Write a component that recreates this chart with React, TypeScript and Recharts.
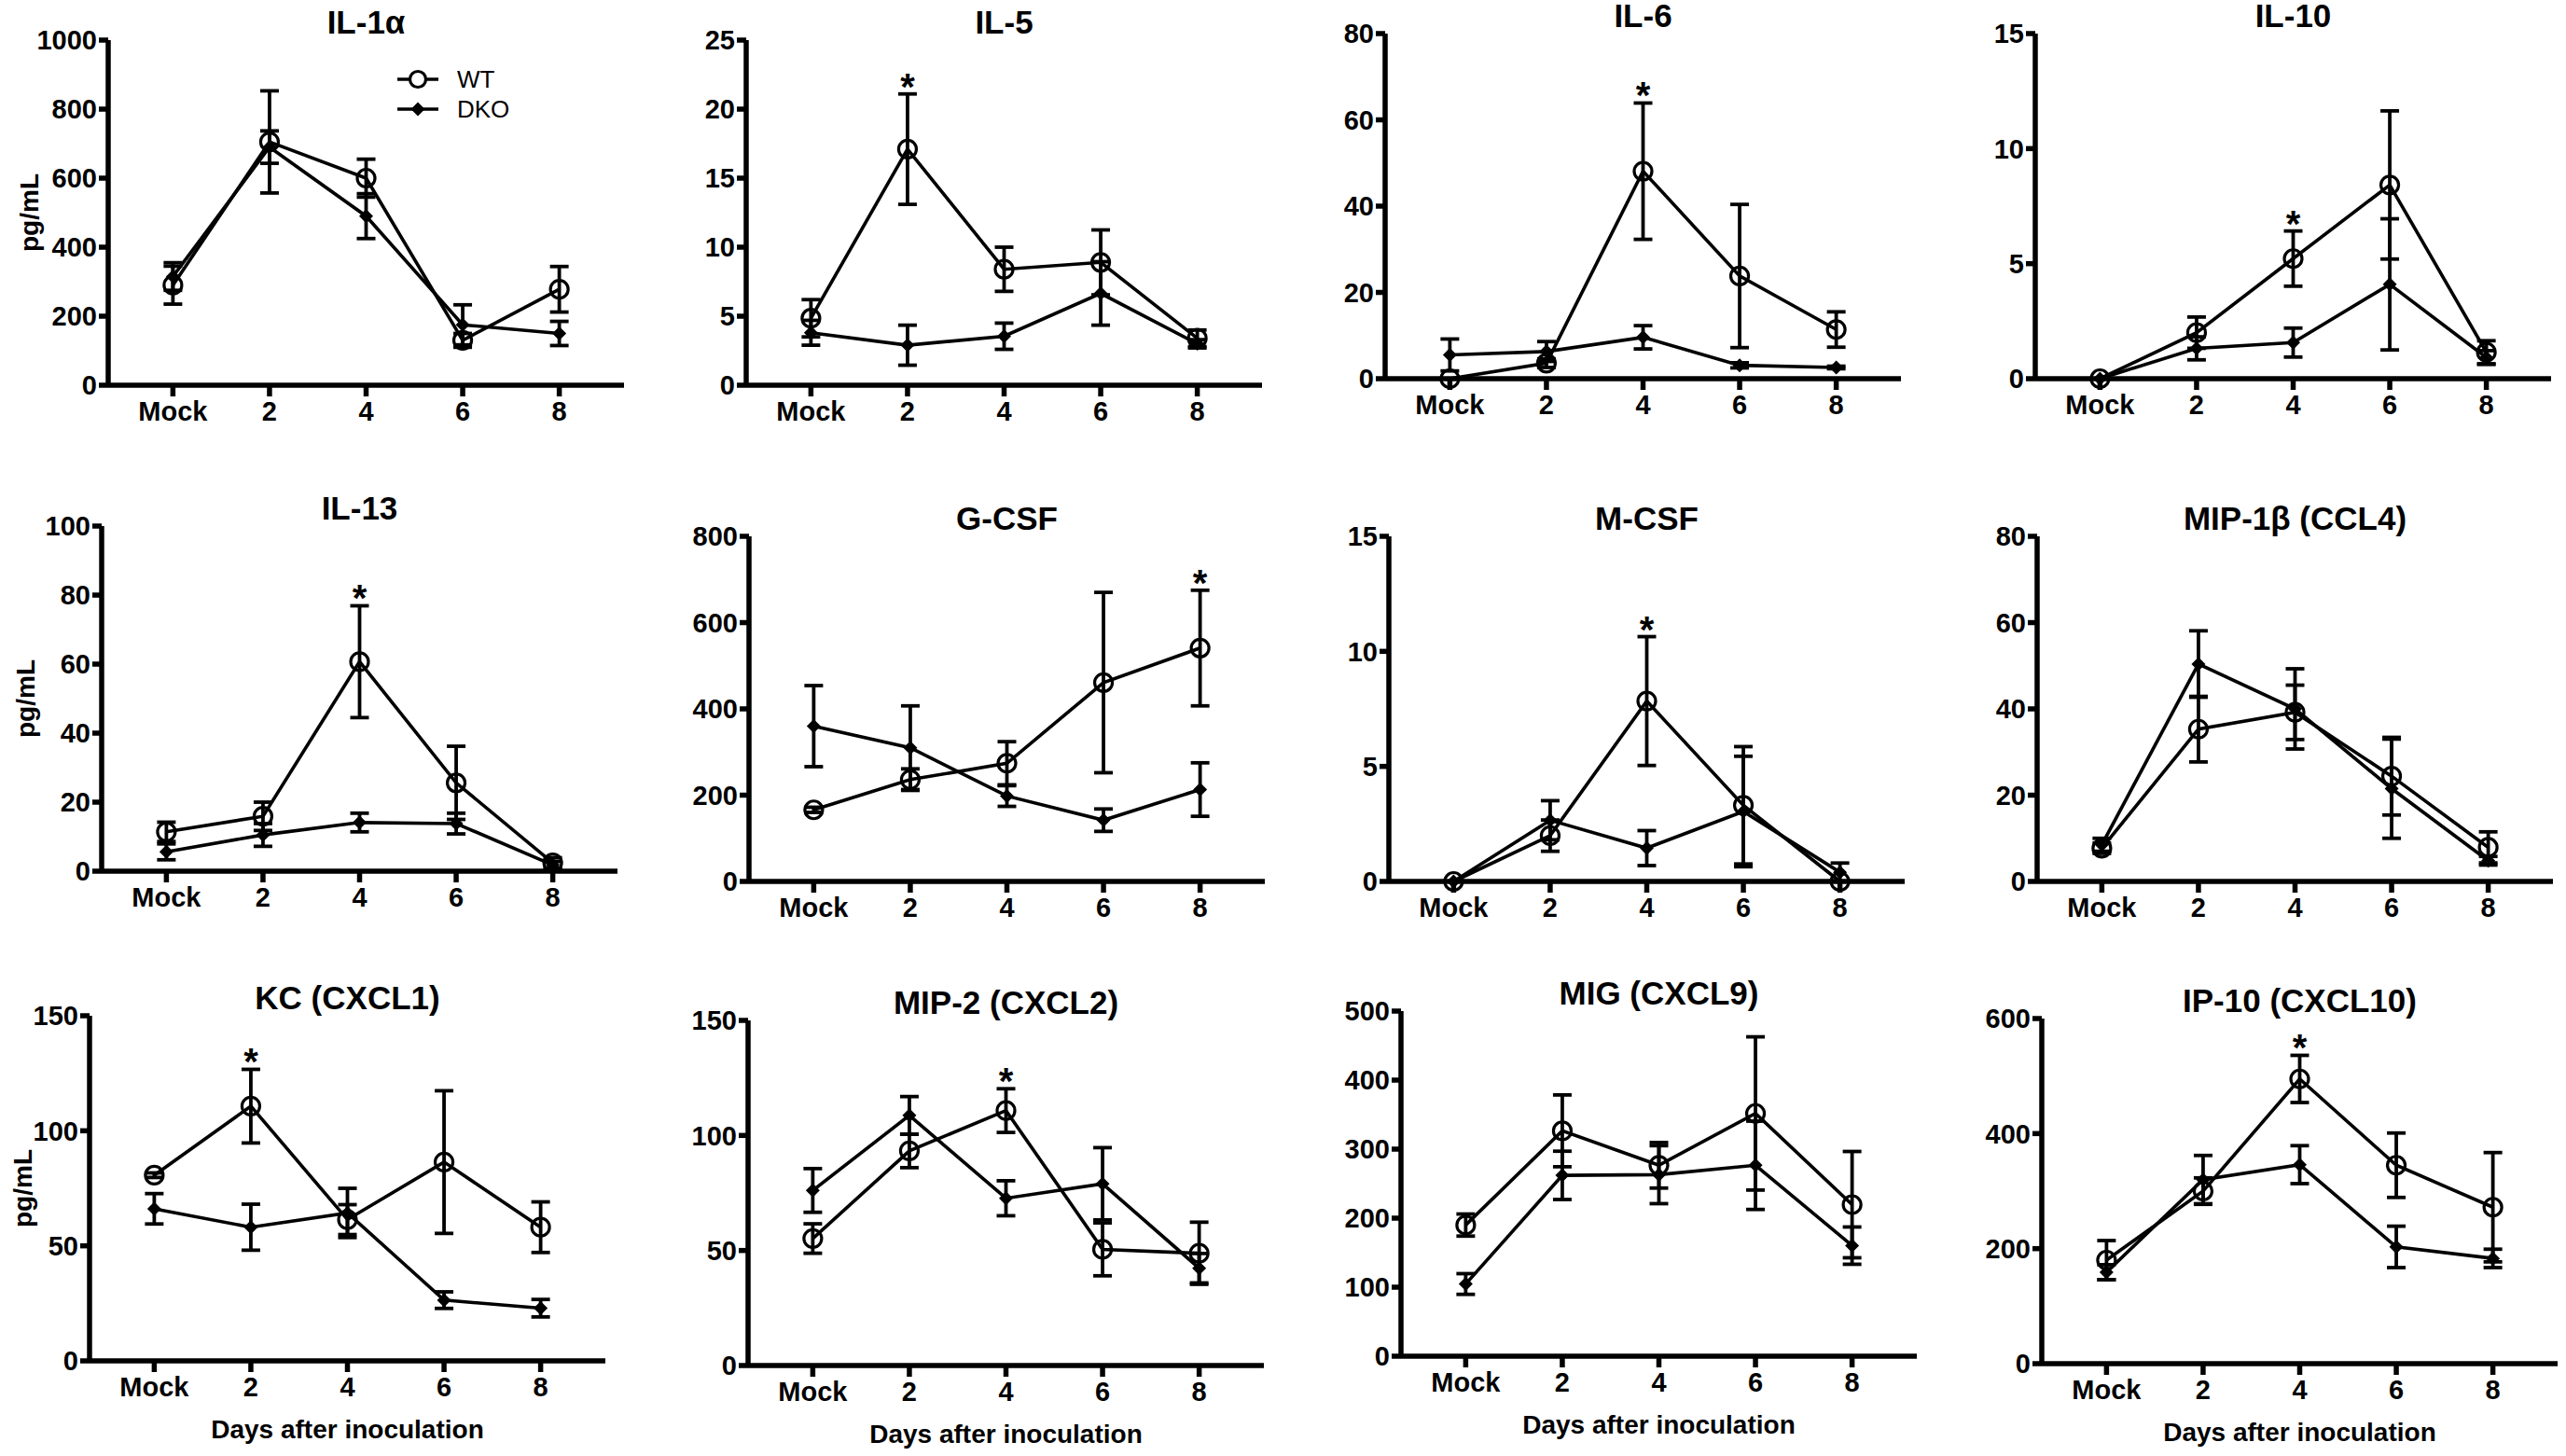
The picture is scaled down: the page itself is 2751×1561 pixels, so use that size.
import { LineChart, Line, XAxis, YAxis, ErrorBar, LabelList, Legend } from "recharts";

const FONT = "'Liberation Sans', Arial, Helvetica, sans-serif";

// shared x categories
const days = ["Mock", "2", "4", "6", "8"];
const dayIndex = [0, 1, 2, 3, 4];
const groups = ["WT", "DKO"];

// IL-1α
const il1aTicks = [0, 200, 400, 600, 800, 1000];
const il1aWT = [290, 705, 600, 130, 278];
const il1aWTErr = [55, 148, 55, 20, 66];
const il1aDKO = [315, 690, 490, 175, 150];
const il1aDKOErr = [40, 47, 65, 58, 35];
const il1aStars: number[] = [];

// IL-5
const il5Ticks = [0, 5, 10, 15, 20, 25];
const il5WT = [4.85, 17.1, 8.4, 8.9, 3.4];
const il5WTErr = [1.35, 4.0, 1.6, 2.35, 0.6];
const il5DKO = [3.8, 2.9, 3.55, 6.65, 3.0];
const il5DKOErr = [0.9, 1.45, 0.95, 2.3, 0.3];
const il5Stars = [1];

// IL-6
const il6Ticks = [0, 20, 40, 60, 80];
const il6WT = [0, 3.6, 48.1, 23.8, 11.4];
const il6WTErr = [0, 1.0, 15.8, 16.6, 4.1];
const il6DKO = [5.5, 6.3, 9.6, 3.1, 2.6];
const il6DKOErr = [3.7, 2.3, 2.7, 0.6, 0.3];
const il6Stars = [2];

// IL-10
const il10Ticks = [0, 5, 10, 15];
const il10WT = [0, 2.0, 5.22, 8.42, 1.15];
const il10WTErr = [0, 0.68, 1.2, 3.22, 0.5];
const il10DKO = [0, 1.32, 1.57, 4.1, 0.92];
const il10DKOErr = [0, 0.5, 0.63, 2.85, 0.3];
const il10Stars = [2];

// IL-13
const il13Ticks = [0, 20, 40, 60, 80, 100];
const il13WT = [11.4, 15.9, 60.7, 25.6, 2.4];
const il13WTErr = [2.8, 4.1, 16.2, 10.6, 1.5];
const il13DKO = [5.6, 10.5, 14.1, 13.8, 1.8];
const il13DKOErr = [2.3, 3.3, 2.7, 3.0, 1.0];
const il13Stars = [2];

// G-CSF
const gcsfTicks = [0, 200, 400, 600, 800];
const gcsfWT = [166, 236, 274, 461, 541];
const gcsfWTErr = [6, 25, 50, 209, 134];
const gcsfDKO = [360, 310, 198, 142, 213];
const gcsfDKOErr = [94, 97, 24, 26, 62];
const gcsfStars = [4];

// M-CSF
const mcsfTicks = [0, 5, 10, 15];
const mcsfWT = [0, 1.99, 7.84, 3.31, 0];
const mcsfWTErr = [0, 0.68, 2.8, 2.55, 0];
const mcsfDKO = [0, 2.66, 1.45, 3.04, 0.4];
const mcsfDKOErr = [0, 0.85, 0.76, 2.4, 0.4];
const mcsfStars = [2];

// MIP-1β (CCL4)
const mip1bTicks = [0, 20, 40, 60, 80];
const mip1bWT = [7.7, 35.3, 39.2, 24.4, 7.9];
const mip1bWTErr = [1.2, 7.6, 6.3, 9, 3.6];
const mip1bDKO = [8.5, 50.4, 40.0, 21.5, 4.8];
const mip1bDKOErr = [1.5, 7.7, 9.3, 11.5, 1.0];
const mip1bStars: number[] = [];

// KC (CXCL1)
const kcTicks = [0, 50, 100, 150];
const kcWT = [80.7, 110.7, 61.4, 86.4, 58.1];
const kcWTErr = [1, 16, 6.5, 31, 11];
const kcDKO = [66.1, 58.1, 64.3, 26.4, 22.9];
const kcDKOErr = [6.6, 10, 10.7, 3.6, 3.8];
const kcStars = [1];

// MIP-2 (CXCL2)
const mip2Ticks = [0, 50, 100, 150];
const mip2WT = [55.2, 93.3, 110.8, 50.5, 48.8];
const mip2WTErr = [6.4, 7.3, 9.5, 11.5, 13.5];
const mip2DKO = [76.1, 108.7, 72.7, 79.0, 42.3];
const mip2DKOErr = [9.5, 8.2, 7.6, 15.7, 6.4];
const mip2Stars = [2];

// MIG (CXCL9)
const migTicks = [0, 100, 200, 300, 400, 500];
const migWT = [190, 326.5, 276.6, 351.7, 219.6];
const migWTErr = [16, 52, 33, 111, 77];
const migDKO = [104.6, 262, 263, 276.6, 160.2];
const migDKOErr = [15, 35, 42, 64, 27];
const migStars: number[] = [];

// IP-10 (CXCL10)
const ip10Ticks = [0, 200, 400, 600];
const ip10WT = [180, 300, 495, 345, 272];
const ip10WTErr = [34, 23, 41, 56, 95];
const ip10DKO = [159, 320, 346, 203, 183];
const ip10DKOErr = [13, 42, 33, 36, 16];
const ip10Stars = [2];

const PLOT_W = 553;
const PLOT_H = 370;
const YW = 90;
const MT = 24;
const XH = 50;
const MR = 12;

const CircleDot = (props: any) => {
  const { cx, cy, index } = props;
  if (cx == null || cy == null) return <g key={`c-${index}`} />;
  return <circle key={`c-${index}`} cx={cx} cy={cy} r={9.5} fill="none" stroke="#000" strokeWidth={3.2} />;
};

const DiamondDot = (props: any) => {
  const { cx, cy, index } = props;
  if (cx == null || cy == null) return <g key={`d-${index}`} />;
  const s = 7.5;
  return (
    <path
      key={`d-${index}`}
      d={`M${cx},${cy - s} L${cx + s},${cy} L${cx},${cy + s} L${cx - s},${cy} Z`}
      fill="#000"
    />
  );
};

const Star = (props: any) => {
  const { x, y, value, index } = props;
  if (value == null || x == null || y == null) return null;
  return (
    <text key={`s-${index}`} x={x} y={y + 6} textAnchor="middle" fontSize={40} fontWeight={700} fontFamily={FONT} fill="#000">
      *
    </text>
  );
};

const LegendBox = ({ payload }: any) => {
  const items = (payload || [])
    .filter((p: any) => groups.includes(p.value))
    .sort((a: any, b: any) => groups.indexOf(a.value) - groups.indexOf(b.value));
  return (
    <div style={{ fontFamily: FONT, fontSize: 26, color: "#000" }}>
      {items.map((p: any) => (
        <div key={p.value} style={{ display: "flex", alignItems: "center", height: 32 }}>
          <svg width={44} height={24}>
            <line x1={0} y1={12} x2={44} y2={12} stroke="#000" strokeWidth={3.6} />
            {p.value === "WT" ? (
              <circle cx={22} cy={12} r={8.5} fill="#fff" stroke="#000" strokeWidth={3.2} />
            ) : (
              <path d="M22,4.5 L29.5,12 L22,19.5 L14.5,12 Z" fill="#000" />
            )}
          </svg>
          <span style={{ marginLeft: 20 }}>{p.value}</span>
        </div>
      ))}
    </div>
  );
};

type PanelProps = {
  title: string;
  ticks: number[];
  wt: number[];
  wtErr: number[];
  dko: number[];
  dkoErr: number[];
  stars: number[];
  left: number;
  top: number;
  yLabelX?: number;
  xLabel?: boolean;
  legend?: boolean;
};

const axisStroke = { stroke: "#000", strokeWidth: 5.5 };
const tickStyle = { fill: "#000", fontSize: 29, fontWeight: 700, fontFamily: FONT };

const Panel = ({ title, ticks, wt, wtErr, dko, dkoErr, stars, left, top, yLabelX, xLabel, legend }: PanelProps) => {
  const rows = days.map((d, i) => ({
    x: i,
    wt: wt[i],
    wtErr: wtErr[i],
    dko: dko[i],
    dkoErr: dkoErr[i],
    star: stars.includes(i) ? wt[i] + wtErr[i] : null,
  }));
  const zeroY = top + PLOT_H;
  return (
    <>
      <div
        style={{
          position: "absolute",
          left,
          top: top - 37,
          width: PLOT_W,
          textAlign: "center",
          fontFamily: FONT,
          fontWeight: 700,
          fontSize: 35,
          lineHeight: "35px",
          whiteSpace: "nowrap",
        }}
      >
        {title}
      </div>
      {yLabelX !== undefined && (
        <div
          style={{
            position: "absolute",
            left: yLabelX,
            top: top + PLOT_H / 2,
            transform: "translate(-50%, -50%) rotate(-90deg)",
            fontFamily: FONT,
            fontWeight: 700,
            fontSize: 28,
            whiteSpace: "nowrap",
          }}
        >
          pg/mL
        </div>
      )}
      {xLabel && (
        <div
          style={{
            position: "absolute",
            left,
            top: zeroY + 60,
            width: PLOT_W,
            textAlign: "center",
            fontFamily: FONT,
            fontWeight: 700,
            fontSize: 28,
            lineHeight: "28px",
            whiteSpace: "nowrap",
          }}
        >
          Days after inoculation
        </div>
      )}
      <div style={{ position: "absolute", left: left - YW, top: top - MT }}>
        <LineChart
          width={YW + PLOT_W + MR}
          height={MT + PLOT_H + XH}
          data={rows}
          margin={{ top: MT, right: MR, bottom: 0, left: 0 }}
        >
          <XAxis
            type="number"
            dataKey="x"
            domain={[-0.67, 4.67]}
            ticks={dayIndex}
            interval={0}
            tickFormatter={(v: number) => days[v]}
            axisLine={axisStroke}
            tickLine={axisStroke}
            tickSize={12}
            tickMargin={5}
            tick={tickStyle}
            height={XH}
          />
          <YAxis
            type="number"
            domain={[0, ticks[ticks.length - 1]]}
            ticks={ticks}
            interval={0}
            width={YW}
            axisLine={axisStroke}
            tickLine={axisStroke}
            tickSize={10}
            tickMargin={2}
            tick={tickStyle}
          />
          {legend && (
            <Legend
              layout="horizontal"
              verticalAlign="middle"
              align="center"
              content={LegendBox}
              wrapperStyle={{ position: "absolute", left: 400, top: 50, width: "auto", height: "auto" }}
            />
          )}
          <Line
            dataKey="wt"
            name="WT"
            stroke="#000"
            strokeWidth={3.6}
            dot={CircleDot}
            activeDot={false}
            isAnimationActive={false}
          >
            <ErrorBar dataKey="wtErr" width={10} strokeWidth={3.8} stroke="#000" direction="y" />
          </Line>
          <Line
            dataKey="dko"
            name="DKO"
            stroke="#000"
            strokeWidth={3.6}
            dot={DiamondDot}
            activeDot={false}
            isAnimationActive={false}
          >
            <ErrorBar dataKey="dkoErr" width={10} strokeWidth={3.8} stroke="#000" direction="y" />
          </Line>
          <Line
            dataKey="star"
            name="star"
            stroke="none"
            dot={false}
            activeDot={false}
            legendType="none"
            isAnimationActive={false}
          >
            <LabelList dataKey="star" content={Star} />
          </Line>
        </LineChart>
      </div>
    </>
  );
};

export default function App() {
  return (
    <div style={{ position: "absolute", left: 0, top: 0, width: 2751, height: 1561, background: "#fff" }}>
      <Panel title="IL-1α" ticks={il1aTicks} wt={il1aWT} wtErr={il1aWTErr} dko={il1aDKO} dkoErr={il1aDKOErr} stars={il1aStars} left={116} top={43} yLabelX={32} legend />
      <Panel title="IL-5" ticks={il5Ticks} wt={il5WT} wtErr={il5WTErr} dko={il5DKO} dkoErr={il5DKOErr} stars={il5Stars} left={800} top={43} />
      <Panel title="IL-6" ticks={il6Ticks} wt={il6WT} wtErr={il6WTErr} dko={il6DKO} dkoErr={il6DKOErr} stars={il6Stars} left={1485} top={36} />
      <Panel title="IL-10" ticks={il10Ticks} wt={il10WT} wtErr={il10WTErr} dko={il10DKO} dkoErr={il10DKOErr} stars={il10Stars} left={2182} top={36} />

      <Panel title="IL-13" ticks={il13Ticks} wt={il13WT} wtErr={il13WTErr} dko={il13DKO} dkoErr={il13DKOErr} stars={il13Stars} left={109} top={564} yLabelX={28} />
      <Panel title="G-CSF" ticks={gcsfTicks} wt={gcsfWT} wtErr={gcsfWTErr} dko={gcsfDKO} dkoErr={gcsfDKOErr} stars={gcsfStars} left={803} top={575} />
      <Panel title="M-CSF" ticks={mcsfTicks} wt={mcsfWT} wtErr={mcsfWTErr} dko={mcsfDKO} dkoErr={mcsfDKOErr} stars={mcsfStars} left={1489} top={575} />
      <Panel title="MIP-1β (CCL4)" ticks={mip1bTicks} wt={mip1bWT} wtErr={mip1bWTErr} dko={mip1bDKO} dkoErr={mip1bDKOErr} stars={mip1bStars} left={2184} top={575} />

      <Panel title="KC (CXCL1)" ticks={kcTicks} wt={kcWT} wtErr={kcWTErr} dko={kcDKO} dkoErr={kcDKOErr} stars={kcStars} left={96} top={1089} yLabelX={25} xLabel />
      <Panel title="MIP-2 (CXCL2)" ticks={mip2Ticks} wt={mip2WT} wtErr={mip2WTErr} dko={mip2DKO} dkoErr={mip2DKOErr} stars={mip2Stars} left={802} top={1094} xLabel />
      <Panel title="MIG (CXCL9)" ticks={migTicks} wt={migWT} wtErr={migWTErr} dko={migDKO} dkoErr={migDKOErr} stars={migStars} left={1502} top={1084} xLabel />
      <Panel title="IP-10 (CXCL10)" ticks={ip10Ticks} wt={ip10WT} wtErr={ip10WTErr} dko={ip10DKO} dkoErr={ip10DKOErr} stars={ip10Stars} left={2189} top={1092} xLabel />
    </div>
  );
}
